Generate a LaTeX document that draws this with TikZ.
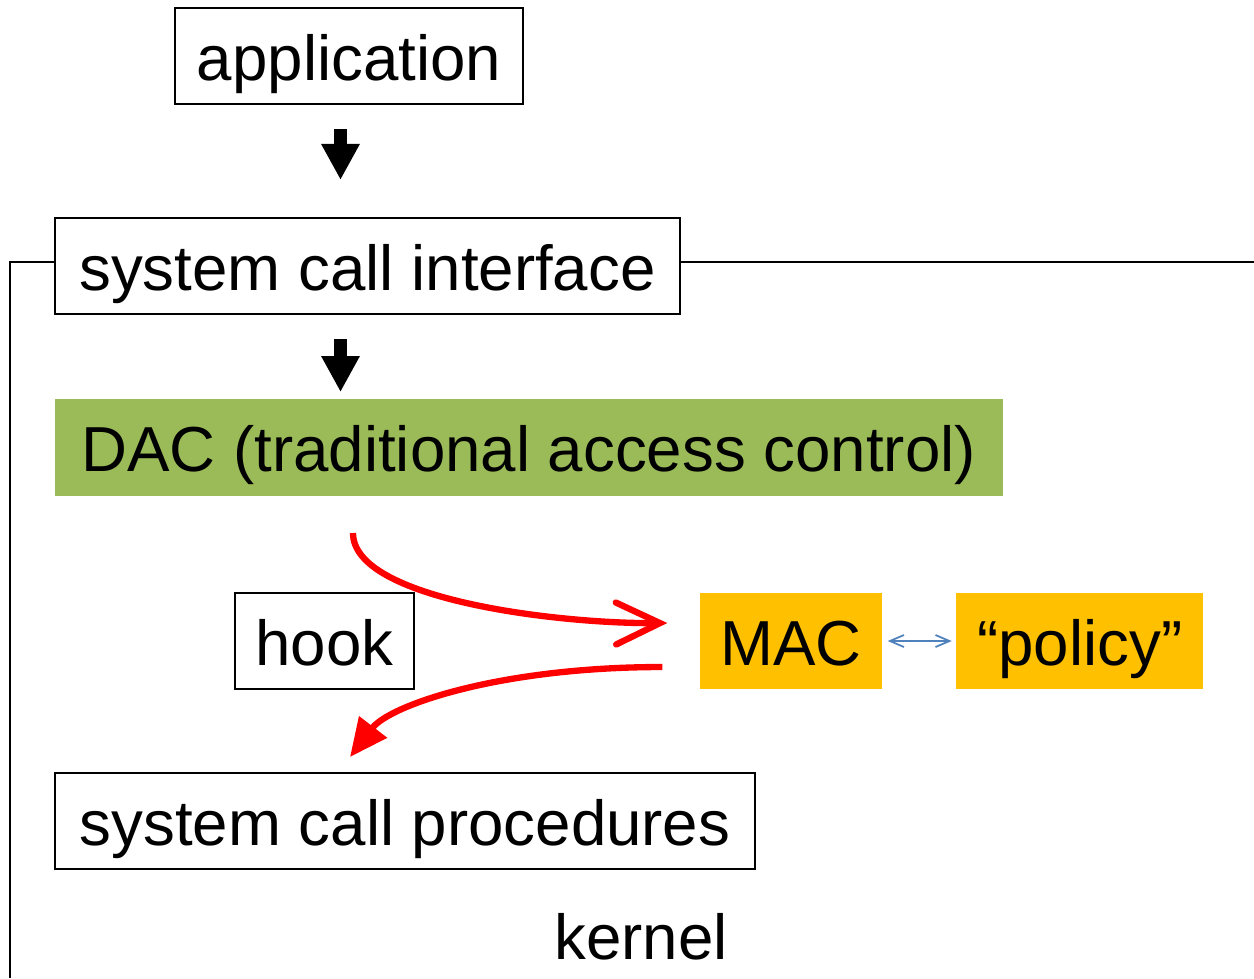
\documentclass[tikz,border=0pt]{standalone}
\usepackage{fontspec}
\setmainfont{Liberation Sans}
\usepackage{tikz}
\usetikzlibrary{arrows.meta, positioning, calc}
\definecolor{dacgreen}{HTML}{9BBB59}
\definecolor{macorange}{HTML}{FFC000}
\definecolor{linkblue}{HTML}{4F81BD}
\tikzstyle{layer} = [rectangle, minimum height=0.96cm, inner sep=0pt, text height=0.64cm, text depth=0.16cm, text centered, draw=black, line width=0.6pt, fill=white]
\tikzstyle{greenbox} = [rectangle, minimum height=0.97cm, inner sep=0pt, text height=0.64cm, text depth=0.16cm, text centered, fill=dacgreen]
\tikzstyle{orangebox} = [rectangle, minimum height=0.96cm, inner sep=0pt, text height=0.64cm, text depth=0.16cm, text centered, fill=macorange]
\tikzstyle{blockarrow} = [line width=0.125cm, -{Triangle[width=0.36cm, length=0.36cm]}]
\tikzstyle{hookin} = [red, line width=1.8pt, -{Straight Barb[width=0.42cm, length=0.44cm, line cap=round]}]
\tikzstyle{hookout} = [red, line width=1.8pt, -{Triangle[width=0.34cm, length=0.38cm]}]
\tikzstyle{link} = [linkblue, line width=0.5pt, {Straight Barb[width=0.12cm, length=0.14cm]}-{Straight Barb[width=0.12cm, length=0.14cm]}]

\begin{document}
\begin{tikzpicture}[font=\fontsize{18.1}{22}\selectfont]
    \useasboundingbox (0,0) rectangle (12.54,-9.78);

    \node (app) [layer, minimum width=3.48cm] at (3.49,-0.56) {application};
    \node (sci) [layer, minimum width=6.25cm] at (3.675,-2.66) {system call interface};
    \node (dac) [greenbox, minimum width=9.48cm, below right=0.83cm and 0cm of sci.south west] {DAC (traditional access control)\hspace{0.08cm}};
    \node (hook) [layer, minimum width=1.79cm] at (3.245,-6.41) {hook};
    \node (mac) [orangebox, minimum width=1.82cm] at (7.91,-6.41) {MAC};
    \node (policy) [orangebox, minimum width=2.47cm, right=0.73cm of mac] {“policy”};
    \node (scp) [layer, minimum width=7.0cm] at (4.05,-8.21) {system call procedures};
    \node (kernel) at (6.41,-9.365) {kernel};

    % kernel frame
    \coordinate (kl) at (0.1,-9.78);
    \coordinate (kr) at (12.54,-2.62);
    \draw [line width=0.6pt] (sci.west |- kr) -- (kl |- kr) -- (kl);
    \draw [line width=0.6pt] (sci.east |- kr) -- (kr);

    % calls going down
    \coordinate (ax) at (3.405,0);
    \draw [blockarrow, shorten <=0.24cm, shorten >=0.37cm] (app.south -| ax) -- (sci.north -| ax);
    \draw [blockarrow, shorten <=0.24cm, shorten >=0.06cm] (sci.south -| ax) -- (dac.north -| ax);

    % hook into MAC and back
    \coordinate (hs) at (3.53,-5.33);
    \coordinate (hr) at (3.50,-7.57);
    \draw [hookin] (hs) .. controls (3.53,-6.0) and (5.6,-6.24) .. ($(mac.west)+(-0.32,0.18)$);
    \draw [hookout] ($(mac.west)+(-0.37,-0.26)$) .. controls (5.0,-6.67) and (3.9,-7.05) .. (hr);
    \draw [link, shorten <=0.05cm, shorten >=0.04cm] (mac.east) -- (policy.west);
\end{tikzpicture}
\end{document}
